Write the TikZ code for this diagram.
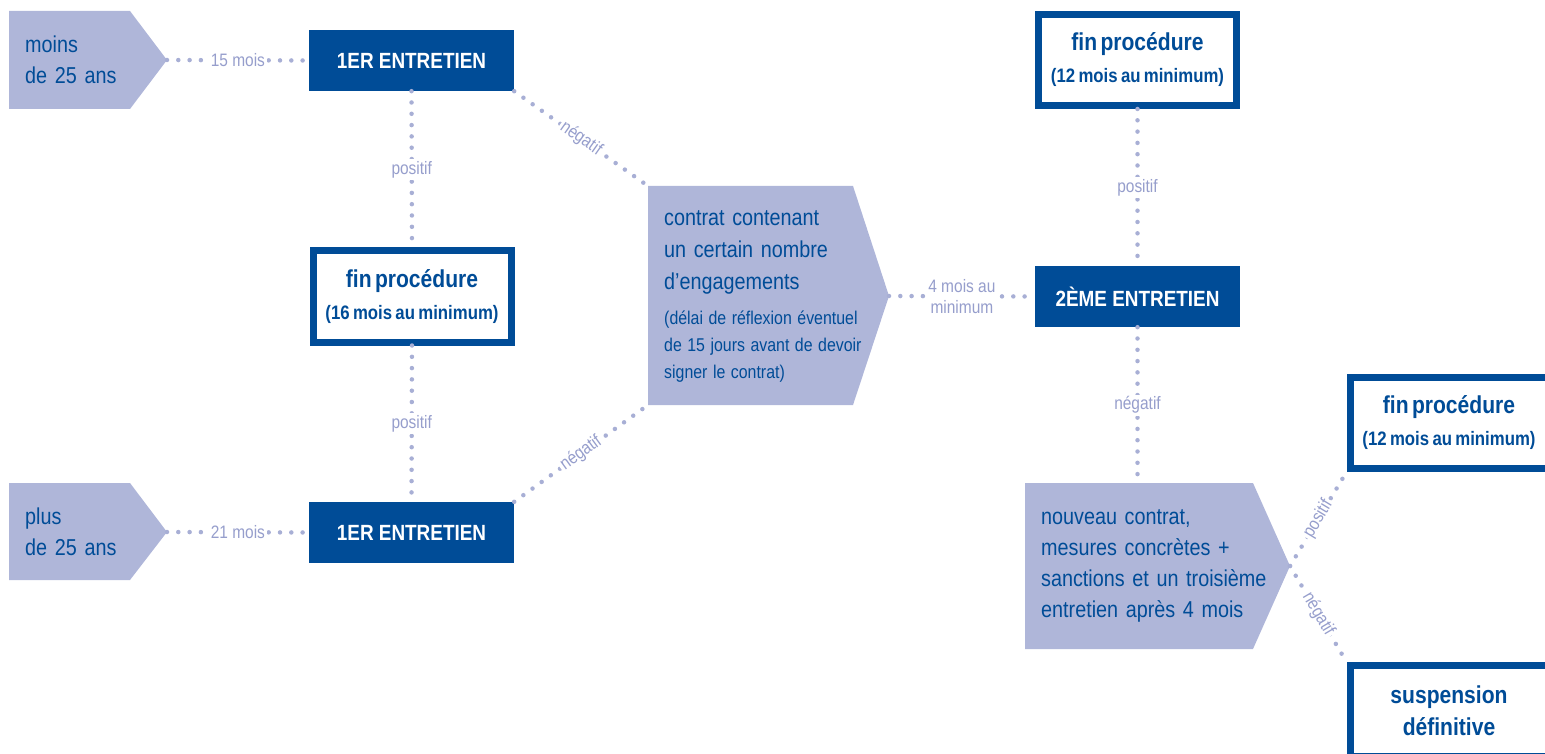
\documentclass[tikz,border=0pt]{standalone}
\usepackage{fontspec}
\setmainfont[FakeStretch=0.86]{Liberation Sans}
\usepackage{tikz}
\usetikzlibrary{calc}
\definecolor{mblue}{RGB}{0,76,151}
\definecolor{mpale}{RGB}{175,182,217}
\definecolor{mdot}{RGB}{168,175,213}
\definecolor{mlabel}{RGB}{150,158,204}
\newcommand{\bodyfont}{\fontsize{23}{31}\selectfont\spaceskip 5pt\relax}
\newcommand{\headfont}{\bfseries\spaceskip 6pt\relax}
\tikzset{agetext/.style = {text=mblue, inner xsep=16pt, inner ysep=0pt, anchor=west, align=left, text width=240pt, font=\bodyfont}}
\tikzset{entretien/.style = {fill=mblue, text=white, minimum width=205pt, minimum height=61pt, inner sep=0pt, font=\bfseries\fontsize{22}{26}\selectfont}}
\tikzset{finbox/.style = {draw=mblue, line width=7pt, fill=white, text=mblue, minimum width=198pt, minimum height=91pt, inner sep=0pt, align=center, text width=196pt, font=\headfont}}
\tikzset{dots/.style = {draw=mdot, line width=4.5pt, line cap=round, dash pattern=on 0pt off 11.3pt}}
\tikzset{lbl/.style = {text=mlabel, fill=white, inner sep=2pt, align=center, font=\fontsize{18}{21}\selectfont}}

\begin{document}
\begin{tikzpicture}[x=1pt, y=-1pt]
    \clip (0, 0) rectangle (1545, 754);

    \fill [mpale] (9, 11) -- (130, 11) -- (167, 60) coordinate (moins tip) -- (130, 109) -- (9, 109) -- cycle;
    \node [agetext] (moins) at (9, 60) {moins\\de 25 ans\par};

    \fill [mpale] (9, 483) -- (130, 483) -- (167, 532) coordinate (plus tip) -- (130, 580) -- (9, 580) -- cycle;
    \node [agetext] (plus) at (9, 532) {plus\\de 25 ans\par};

    \node [entretien] (e1a) at (411.5, 60.5) {1ER ENTRETIEN};
    \node [entretien] (e1b) at (411.5, 532.5) {1ER ENTRETIEN};
    \node [finbox] (fin16) at (412, 296.5)
      {\fontsize{24.5}{24}\selectfont fin procédure\par\vspace{8pt}
       \fontsize{19.5}{24}\selectfont (16 mois au minimum)\par};

    \fill [mpale] (648, 186) coordinate (contrat nw) -- (853, 186) -- (889, 296) coordinate (contrat tip)
      -- (853, 405) -- (648, 405) coordinate (contrat sw) -- cycle;
    \node [agetext] (contrat) at (648, 296)
      {\fontsize{23}{32}\selectfont contrat contenant\\un certain nombre\\d’engagements\par\vspace{8pt}
       \fontsize{18.5}{27}\selectfont\spaceskip 5.5pt\relax (délai de réflexion éventuel\\de 15 jours avant de devoir\\signer le contrat)\par};

    \node [entretien] (e2) at (1137.5, 296.5) {2ÈME ENTRETIEN};
    \node [finbox] (fin12a) at (1137.5, 60)
      {\fontsize{24.5}{24}\selectfont fin procédure\par\vspace{8pt}
       \fontsize{19.5}{24}\selectfont (12 mois au minimum)\par};

    \fill [mpale] (1025, 483) coordinate (nouveau n) -- (1253, 483) -- (1290, 566) coordinate (nouveau tip)
      -- (1253, 649) -- (1025, 649) -- cycle;
    \node [agetext] (nouveau) at (1025, 566)
      {nouveau contrat,\\mesures concrètes +\\sanctions et un troisième\\entretien après 4 mois\par};

    \node [finbox] (fin12b) at (1449, 423)
      {\fontsize{24.5}{24}\selectfont fin procédure\par\vspace{8pt}
       \fontsize{19.5}{24}\selectfont (12 mois au minimum)\par};
    \node [finbox] (susp) at (1449, 711)
      {\fontsize{24.5}{32}\selectfont suspension\\définitive\par};

    \draw [dots] (moins tip) -- node [lbl] {15 mois} (e1a.west);
    \draw [dots] (plus tip) -- node [lbl] {21 mois} (e1b.west);
    \draw [dots] (e1a.south) -- node [lbl] {positif} (fin16.north);
    \draw [dots] (fin16.south) -- node [lbl] {positif} (e1b.north);
    \draw [dots] (e1a.south east) -- node [lbl, sloped] {négatif} (contrat nw);
    \draw [dots] (e1b.north east) -- node [lbl, sloped] {négatif} (contrat sw);
    \draw [dots] (contrat tip) -- node [lbl] {4 mois au\\minimum} (e2.west);
    \draw [dots] (fin12a.south) -- node [lbl] {positif} (e2.north);
    \draw [dots] (e2.south) -- node [lbl] {négatif} (e2.south |- nouveau n);
    \draw [dots] (nouveau tip) -- node [lbl, sloped] {positif} (fin12b.south west);
    \draw [dots] (nouveau tip) -- node [lbl, sloped] {négatif} (susp.north west);
\end{tikzpicture}
\end{document}
